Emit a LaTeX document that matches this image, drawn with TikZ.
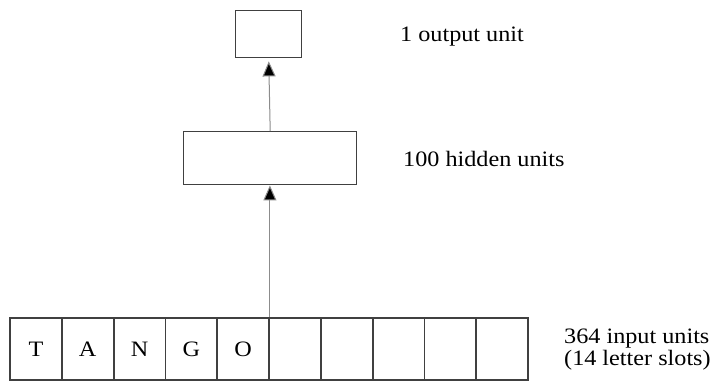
\documentclass[tikz,border=0pt]{standalone}
\usepackage{fontspec}
\setmainfont{Liberation Serif}[FakeStretch=1.1]
\usetikzlibrary{arrows.meta}
\begin{document}
\begin{tikzpicture}[x=1pt,y=-1pt,
  unitbox/.style={draw=black!75, line width=1.4pt, minimum width=#1, inner sep=0pt, anchor=north west},
  cellbox/.style={draw=black!75, line width=1.8pt, minimum width=51.8pt, minimum height=62pt, inner sep=0pt, font=\fontsize{22}{22}\selectfont},
  lbl/.style={anchor=base west, inner sep=0pt, font=\fontsize{22}{22}\selectfont, align=left},
  conn/.style={draw=black!45, line width=1pt, -{Triangle[length=15pt,width=13pt,fill=black]}}]
\useasboundingbox (0,0) rectangle (718,383);
\node[unitbox=66pt, minimum height=47pt] (out) at (235,10) {};
\node[unitbox=173pt, minimum height=53pt] (hid) at (183,131) {};
\foreach \l [count=\i] in {T,A,N,G,O,{},{},{},{},{}} {
  \node[cellbox] (c\i) at ({10+51.8*(\i-0.5)},349) {\l};
}
\node[lbl] (lo) at (400,41) {1 output unit};
\node[lbl] (lh) at (403,166) {100 hidden units};
\node[lbl] (li) at (564,365) {364 input units\\(14 letter slots)};
\draw[conn, shorten >=3pt] (hid.north) -- (out.south);
\draw[conn] (c5.north east) -- (c5.north east |- hid.south);
\end{tikzpicture}
\end{document}
